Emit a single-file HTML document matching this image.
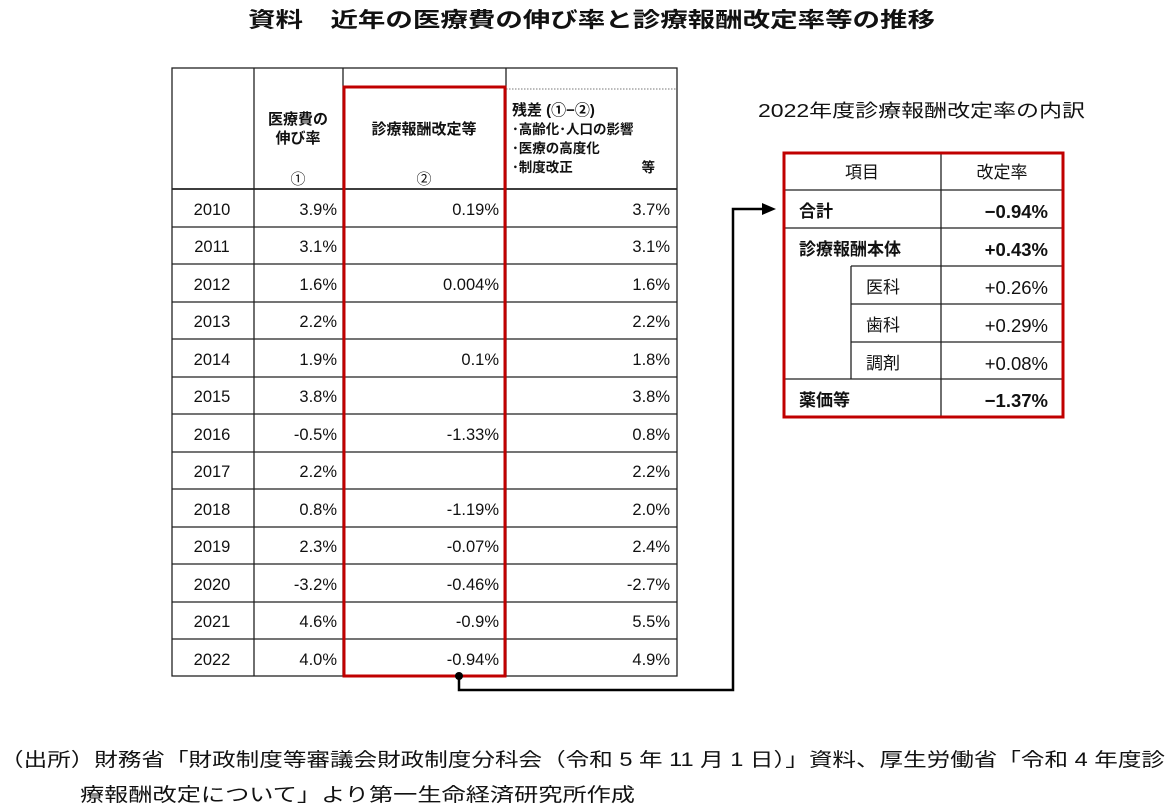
<!DOCTYPE html>
<html><head><meta charset="utf-8"><style>
body{margin:0;background:#fff;width:1171px;height:810px;overflow:hidden}
svg{display:block}
text{font-family:"Liberation Sans","Noto Sans CJK JP",sans-serif;fill:#111}
</style></head><body>
<svg width="1171" height="810" viewBox="0 0 1171 810">
<text x="248" y="27" font-size="21" font-weight="bold" textLength="687" lengthAdjust="spacingAndGlyphs">資料　近年の医療費の伸び率と診療報酬改定率等の推移</text>

<g stroke="#222" stroke-width="1.3" fill="none">
<rect x="172" y="68" width="505" height="608"/>
<line x1="254" y1="68" x2="254" y2="676"/>
<line x1="506" y1="68" x2="506" y2="676"/>
<line x1="343" y1="68" x2="343" y2="676"/>
<line x1="172" y1="189" x2="677" y2="189" stroke-width="1.8"/>
<line x1="172" y1="227" x2="677" y2="227"/><line x1="172" y1="264" x2="677" y2="264"/>
<line x1="172" y1="302" x2="677" y2="302"/><line x1="172" y1="339" x2="677" y2="339"/>
<line x1="172" y1="377" x2="677" y2="377"/><line x1="172" y1="414" x2="677" y2="414"/>
<line x1="172" y1="452" x2="677" y2="452"/><line x1="172" y1="489" x2="677" y2="489"/>
<line x1="172" y1="527" x2="677" y2="527"/><line x1="172" y1="564" x2="677" y2="564"/>
<line x1="172" y1="602" x2="677" y2="602"/><line x1="172" y1="639" x2="677" y2="639"/>
</g>
<line x1="506" y1="89" x2="677" y2="89" stroke="#777" stroke-width="1" stroke-dasharray="1.5,1.5"/>
<rect x="344" y="87" width="161" height="589" fill="none" stroke="#c00000" stroke-width="3"/>

<g font-size="15" font-weight="bold" fill="#333">
<text x="298" y="124" text-anchor="middle">医療費の</text>
<text x="298" y="143" text-anchor="middle">伸び率</text>
<text x="298" y="184" text-anchor="middle" font-weight="normal">①</text>
<text x="424" y="134" text-anchor="middle">診療報酬改定等</text>
<text x="424" y="184" text-anchor="middle" font-weight="normal">②</text>
<text x="512" y="115">残差 (①−②)</text>
</g>
<g font-size="13.5" font-weight="bold">
<text x="512" y="134">･高齢化･人口の影響</text>
<text x="512" y="153">･医療の高度化</text>
<text x="512" y="172">･制度改正</text>
<text x="655" y="172" text-anchor="end">等</text>
</g>

<g font-size="16.5">
<g text-anchor="middle">
<text x="212" y="215">2010</text><text x="212" y="252">2011</text><text x="212" y="290">2012</text>
<text x="212" y="327">2013</text><text x="212" y="365">2014</text><text x="212" y="402">2015</text>
<text x="212" y="440">2016</text><text x="212" y="477">2017</text><text x="212" y="515">2018</text>
<text x="212" y="552">2019</text><text x="212" y="590">2020</text><text x="212" y="627">2021</text>
<text x="212" y="665">2022</text>
</g>
<g text-anchor="end">
<text x="337" y="215">3.9%</text><text x="337" y="252">3.1%</text><text x="337" y="290">1.6%</text>
<text x="337" y="327">2.2%</text><text x="337" y="365">1.9%</text><text x="337" y="402">3.8%</text>
<text x="337" y="440">-0.5%</text><text x="337" y="477">2.2%</text><text x="337" y="515">0.8%</text>
<text x="337" y="552">2.3%</text><text x="337" y="590">-3.2%</text><text x="337" y="627">4.6%</text>
<text x="337" y="665">4.0%</text>
<text x="499" y="215">0.19%</text><text x="499" y="290">0.004%</text><text x="499" y="365">0.1%</text>
<text x="499" y="440">-1.33%</text><text x="499" y="515">-1.19%</text><text x="499" y="552">-0.07%</text>
<text x="499" y="590">-0.46%</text><text x="499" y="627">-0.9%</text><text x="499" y="665">-0.94%</text>
<text x="670" y="215">3.7%</text><text x="670" y="252">3.1%</text><text x="670" y="290">1.6%</text>
<text x="670" y="327">2.2%</text><text x="670" y="365">1.8%</text><text x="670" y="402">3.8%</text>
<text x="670" y="440">0.8%</text><text x="670" y="477">2.2%</text><text x="670" y="515">2.0%</text>
<text x="670" y="552">2.4%</text><text x="670" y="590">-2.7%</text><text x="670" y="627">5.5%</text>
<text x="670" y="665">4.9%</text>
</g>
</g>

<circle cx="459" cy="676" r="4" fill="#000"/>
<polyline points="459,676 459,690 733,690 733,209 765,209" fill="none" stroke="#000" stroke-width="2.5"/>
<polygon points="762,203 776,209 762,215" fill="#000"/>

<text x="758" y="117" font-size="18" textLength="327" lengthAdjust="spacingAndGlyphs">2022年度診療報酬改定率の内訳</text>
<g stroke="#222" stroke-width="1.3" fill="none">
<line x1="941" y1="152" x2="941" y2="417"/>
<line x1="783" y1="190" x2="1064" y2="190"/>
<line x1="783" y1="228" x2="1064" y2="228"/>
<line x1="851" y1="266" x2="1064" y2="266"/>
<line x1="851" y1="304" x2="1064" y2="304"/>
<line x1="851" y1="342" x2="1064" y2="342"/>
<line x1="783" y1="379" x2="1064" y2="379"/>
<line x1="851" y1="266" x2="851" y2="379"/>
</g>
<rect x="784" y="153" width="279" height="264" fill="none" stroke="#c00000" stroke-width="3"/>
<g font-size="17">
<text x="862" y="178" text-anchor="middle">項目</text>
<text x="1002" y="178" text-anchor="middle">改定率</text>
<text x="799" y="217" font-weight="bold">合計</text>
<text x="1048" y="218" text-anchor="end" font-weight="bold" font-size="18.5">−0.94%</text>
<text x="799" y="255" font-weight="bold">診療報酬本体</text>
<text x="1048" y="256" text-anchor="end" font-weight="bold" font-size="18.5">+0.43%</text>
<text x="866" y="293">医科</text><text x="1048" y="294" text-anchor="end" font-size="18.5">+0.26%</text>
<text x="866" y="331">歯科</text><text x="1048" y="332" text-anchor="end" font-size="18.5">+0.29%</text>
<text x="866" y="369">調剤</text><text x="1048" y="370" text-anchor="end" font-size="18.5">+0.08%</text>
<text x="799" y="406" font-weight="bold">薬価等</text>
<text x="1048" y="407" text-anchor="end" font-weight="bold" font-size="18.5">−1.37%</text>
</g>

<g font-size="19">
<text x="0" y="766" textLength="1165" lengthAdjust="spacingAndGlyphs">（出所）財務省「財政制度等審議会財政制度分科会（令和 5 年 11 月 1 日）」資料、厚生労働省「令和 4 年度診</text>
<text x="80" y="801" textLength="555" lengthAdjust="spacingAndGlyphs">療報酬改定について」より第一生命経済研究所作成</text>
</g>
</svg>
</body></html>
